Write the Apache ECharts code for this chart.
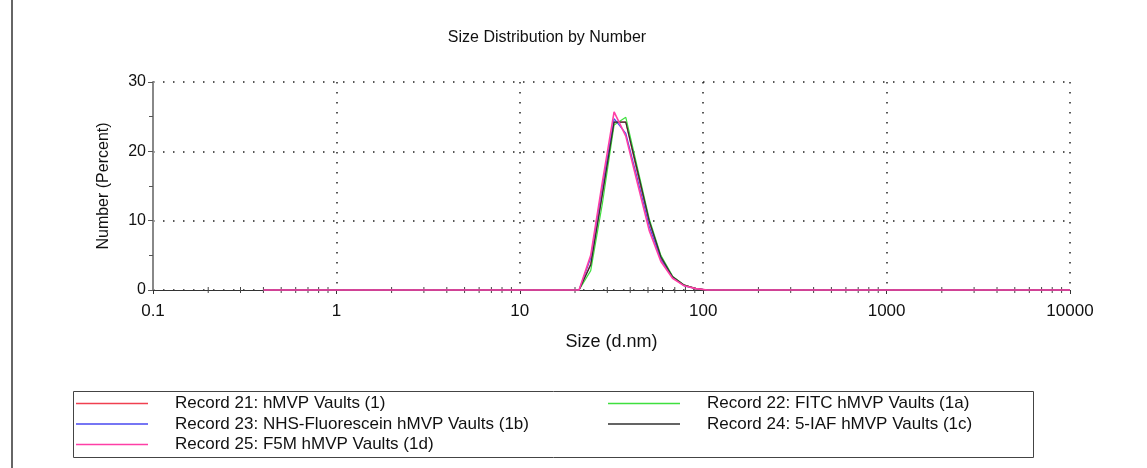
<!DOCTYPE html>
<html>
<head>
<meta charset="utf-8">
<script src="https://cdn.jsdelivr.net/npm/echarts@6/dist/echarts.min.js"></script>
<style>
html,body{margin:0;padding:0;background:#fff;}
#chart{width:1147px;height:468px;}
</style>
</head>
<body>
<div id="chart"></div>
<script>
// Size bins (d.nm)
const sizes = [0.4, 0.4632, 0.5365, 0.6213, 0.7195, 0.8332, 0.9649, 1.117, 1.294, 1.499,
  1.736, 2.010, 2.328, 2.696, 3.122, 3.615, 4.187, 4.849, 5.615, 6.503,
  7.531, 8.721, 10.10, 11.70, 13.54, 15.69, 18.17, 21.04, 24.36, 28.21,
  32.67, 37.84, 43.82, 50.75, 58.77, 68.06, 78.82, 91.28, 105.7, 122.4,
  141.8, 164.2, 190.1, 220.2, 255.0, 295.3, 342.0, 396.1, 458.7, 531.2,
  615.1, 712.4, 825.0, 955.4, 1106, 1281, 1484, 1718, 1990, 2305,
  2669, 3091, 3580, 4145, 4801, 5560, 6439, 7456, 8635, 10000];

// Number (%) per bin for each record
const rec21 = [0,0,0,0,0,0,0,0,0,0, 0,0,0,0,0,0,0,0,0,0, 0,0,0,0,0,0,0,0,3.8,14.0,
  24.2,24.2,16.8,9.8,4.6,1.9,0.7,0.2,0,0, 0,0,0,0,0,0,0,0,0,0, 0,0,0,0,0,0,0,0,0,0, 0,0,0,0,0,0,0,0,0,0];
const rec22 = [0,0,0,0,0,0,0,0,0,0, 0,0,0,0,0,0,0,0,0,0, 0,0,0,0,0,0,0,0,2.8,12.5,
  23.8,24.9,17.6,10.3,5.0,2.0,0.7,0.2,0,0, 0,0,0,0,0,0,0,0,0,0, 0,0,0,0,0,0,0,0,0,0, 0,0,0,0,0,0,0,0,0,0];
const rec23 = [0,0,0,0,0,0,0,0,0,0, 0,0,0,0,0,0,0,0,0,0, 0,0,0,0,0,0,0,0,4.6,15.0,
  24.7,22.6,16.0,9.2,4.4,1.8,0.6,0.2,0,0, 0,0,0,0,0,0,0,0,0,0, 0,0,0,0,0,0,0,0,0,0, 0,0,0,0,0,0,0,0,0,0];
const rec24 = [0,0,0,0,0,0,0,0,0,0, 0,0,0,0,0,0,0,0,0,0, 0,0,0,0,0,0,0,0,3.6,13.8,
  24.2,24.2,17.2,10.0,4.8,1.9,0.7,0.2,0,0, 0,0,0,0,0,0,0,0,0,0, 0,0,0,0,0,0,0,0,0,0, 0,0,0,0,0,0,0,0,0,0];
const rec25 = [0,0,0,0,0,0,0,0,0,0, 0,0,0,0,0,0,0,0,0,0, 0,0,0,0,0,0,0,0,5.0,15.6,
  25.7,22.2,15.4,8.6,4.1,1.7,0.6,0.2,0,0, 0,0,0,0,0,0,0,0,0,0, 0,0,0,0,0,0,0,0,0,0, 0,0,0,0,0,0,0,0,0,0];

const seriesNames = ['Record 21: hMVP Vaults (1)', 'Record 22: FITC hMVP Vaults (1a)',
  'Record 23: NHS-Fluorescein hMVP Vaults (1b)', 'Record 24: 5-IAF hMVP Vaults (1c)',
  'Record 25: F5M hMVP Vaults (1d)'];
const xTickLabels = ['0.1', '1', '10', '100', '1000', '10000'];
const yTicks = [0, 10, 20, 30];
const minorXTicks = [0.2,0.3,0.4,0.5,0.6,0.7,0.8,0.9, 2,3,4,5,6,7,8,9, 20,30,40,50,60,70,80,90,
  200,300,400,500,600,700,800,900, 2000,3000,4000,5000,6000,7000,8000,9000];

const colors = ['#f04050', '#3ee03e', '#4848f0', '#303030', '#ff3fa6'];
const FONT = '"Liberation Sans", Arial, sans-serif';
const allVals = [rec21, rec22, rec23, rec24, rec25];

const chart = echarts.init(document.getElementById('chart'));
const dotted = { color: '#222', width: 1.5, type: [1.5, 8.5] };
const legendText = { fontFamily: FONT, fontSize: 17, lineHeight: 14, color: '#111', padding: [0, 0, 0, 22] };

chart.setOption({
  animation: false,
  backgroundColor: '#fff',
  grid: { left: 153, right: 77, top: 82, bottom: 178, containLabel: false },
  xAxis: {
    type: 'log', logBase: 10, min: 0.1, max: 10000, z: 1,
    name: 'Size (d.nm)', nameLocation: 'middle', nameGap: 43,
    nameTextStyle: { fontFamily: FONT, fontSize: 18, color: '#111' },
    axisLine: { lineStyle: { color: '#333', width: 1.2 } },
    axisTick: { show: true, length: 4, lineStyle: { color: '#333' } },
    axisLabel: {
      fontFamily: FONT, fontSize: 17, color: '#111', margin: 13,
      formatter: function (v) {
        const i = Math.round(Math.log10(v)) + 1;
        return xTickLabels[i] !== undefined ? xTickLabels[i] : '';
      }
    },
    splitLine: { show: true, lineStyle: dotted }
  },
  yAxis: {
    type: 'value', min: yTicks[0], max: yTicks[yTicks.length - 1], interval: 10, z: 1,
    name: 'Number (Percent)', nameLocation: 'middle', nameGap: 41,
    nameTextStyle: { fontFamily: FONT, fontSize: 16, color: '#111' },
    axisLine: { show: true, lineStyle: { color: '#888', width: 2 } },
    axisTick: { show: true, length: 5, lineStyle: { color: '#555' } },
    minorTick: { show: true, splitNumber: 2, length: 4, lineStyle: { color: '#555' } },
    axisLabel: { fontFamily: FONT, fontSize: 16, color: '#111', margin: 7 },
    splitLine: { show: true, lineStyle: dotted }
  },
  legend: [
    {
      left: 71, top: 390, orient: 'vertical', icon: 'rect', itemWidth: 72, itemHeight: 1.5, itemGap: 3.5,
      data: [seriesNames[0], seriesNames[2], seriesNames[4]],
      textStyle: legendText, selectedMode: false
    },
    {
      left: 603, top: 390, orient: 'vertical', icon: 'rect', itemWidth: 72, itemHeight: 1.5, itemGap: 3.5,
      data: [seriesNames[1], seriesNames[3]],
      textStyle: legendText, selectedMode: false
    }
  ],
  graphic: [
    { type: 'line', shape: { x1: 12, y1: 0, x2: 12, y2: 468 }, style: { stroke: '#333', lineWidth: 1.5 } },
    { type: 'rect', shape: { x: 73.5, y: 391.5, width: 960, height: 66 }, style: { fill: 'none', stroke: '#444', lineWidth: 1 } },
    { type: 'text', x: 547, y: 38, style: { text: 'Size Distribution by Number', font: '16px ' + FONT, fill: '#111', textAlign: 'center', textVerticalAlign: 'middle' } }
  ],
  series: allVals.map(function (vals, k) {
    return {
      name: seriesNames[k], type: 'line', showSymbol: false, symbol: 'none', clip: false,
      color: colors[k],
      lineStyle: { width: k === 4 ? 1.6 : 1.2, color: colors[k] },
      data: sizes.map(function (s, i) { return [s, vals[i]]; }),
      z: 5 + k
    };
  }).concat([{
    type: 'custom', silent: true, z: 3, clip: false,
    data: minorXTicks.map(function (v) { return [v, 0]; }),
    renderItem: function (params, api) {
      const p = api.coord([api.value(0), 0]);
      return { type: 'line', shape: { x1: p[0], y1: p[1] - 3, x2: p[0], y2: p[1] + 3 }, style: { stroke: '#444', lineWidth: 1 } };
    }
  }])
});
</script>
</body>
</html>
